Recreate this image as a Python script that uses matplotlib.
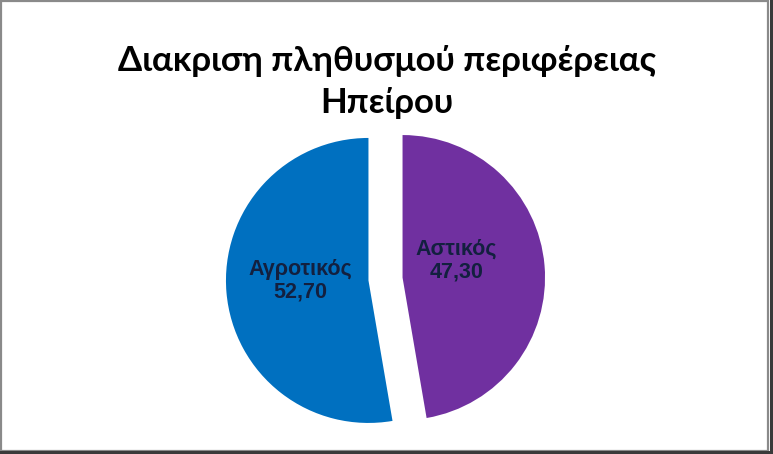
import matplotlib
matplotlib.use('Agg')
import matplotlib.pyplot as plt
from matplotlib.patches import Rectangle

#data
categories = ['Αστικός', 'Αγροτικός']
values = [47.30, 52.70]
value_labels = ['47,30', '52,70']
slice_colors = ['#7030A0', '#0070C0']
title_text = 'Διακριση πληθυσμού περιφέρειας\nΗπείρου'

fig = plt.figure(figsize=(7.73, 4.54), dpi=100)

#frame with shadow on right and bottom, like the excel chart area
fig.patches.append(Rectangle((0.001, 0.006), 0.993, 0.992, transform=fig.transFigure,
                             fill=False, edgecolor='#8a8a8a', linewidth=1.6))
fig.patches.append(Rectangle((0.996, 0.0), 0.004, 1.0, transform=fig.transFigure,
                             facecolor='#3a3a3a', edgecolor='none'))
fig.patches.append(Rectangle((0.0, 0.0), 1.0, 0.006, transform=fig.transFigure,
                             facecolor='#3a3a3a', edgecolor='none'))

#title, one text per line so the baselines sit where they do in the reference
title_baselines = [1 - 71 / 454, 1 - 113 / 454]
for line, yb in zip(title_text.split('\n'), title_baselines):
    fig.text(0.5, yb, line, ha='center', va='baseline', fontsize=25,
             family='Lato', fontweight='bold')

#pie axes: radius 1 = ~142 px, centre at about (386, 175) from bottom-left
side = 2 * 1.2 * 142.5
ax = fig.add_axes([(385.5 - side / 2) / 773, (175 - side / 2) / 454, side / 773, side / 454])
wedges, _ = ax.pie(values, colors=slice_colors, startangle=90, counterclock=False,
                   explode=[0.12, 0.12], radius=1.0)
ax.set_xlim(-1.2, 1.2)
ax.set_ylim(-1.2, 1.2)
ax.set_aspect('equal')
ax.axis('off')

#labels inside the slices (offsets from each wedge's centre, in radius units)
label_offsets = [(0.38, 0.12), (-0.48, 0.0)]
for w, cat, val, (dx, dy) in zip(wedges, categories, value_labels, label_offsets):
    cx, cy = w.center
    ax.text(cx + dx, cy + dy, cat + '\n' + val, ha='center', va='center',
            fontsize=15.5, fontweight='bold', family='Liberation Sans',
            color='#13203f', linespacing=1.1)

fig.savefig('out.png', dpi=100)
